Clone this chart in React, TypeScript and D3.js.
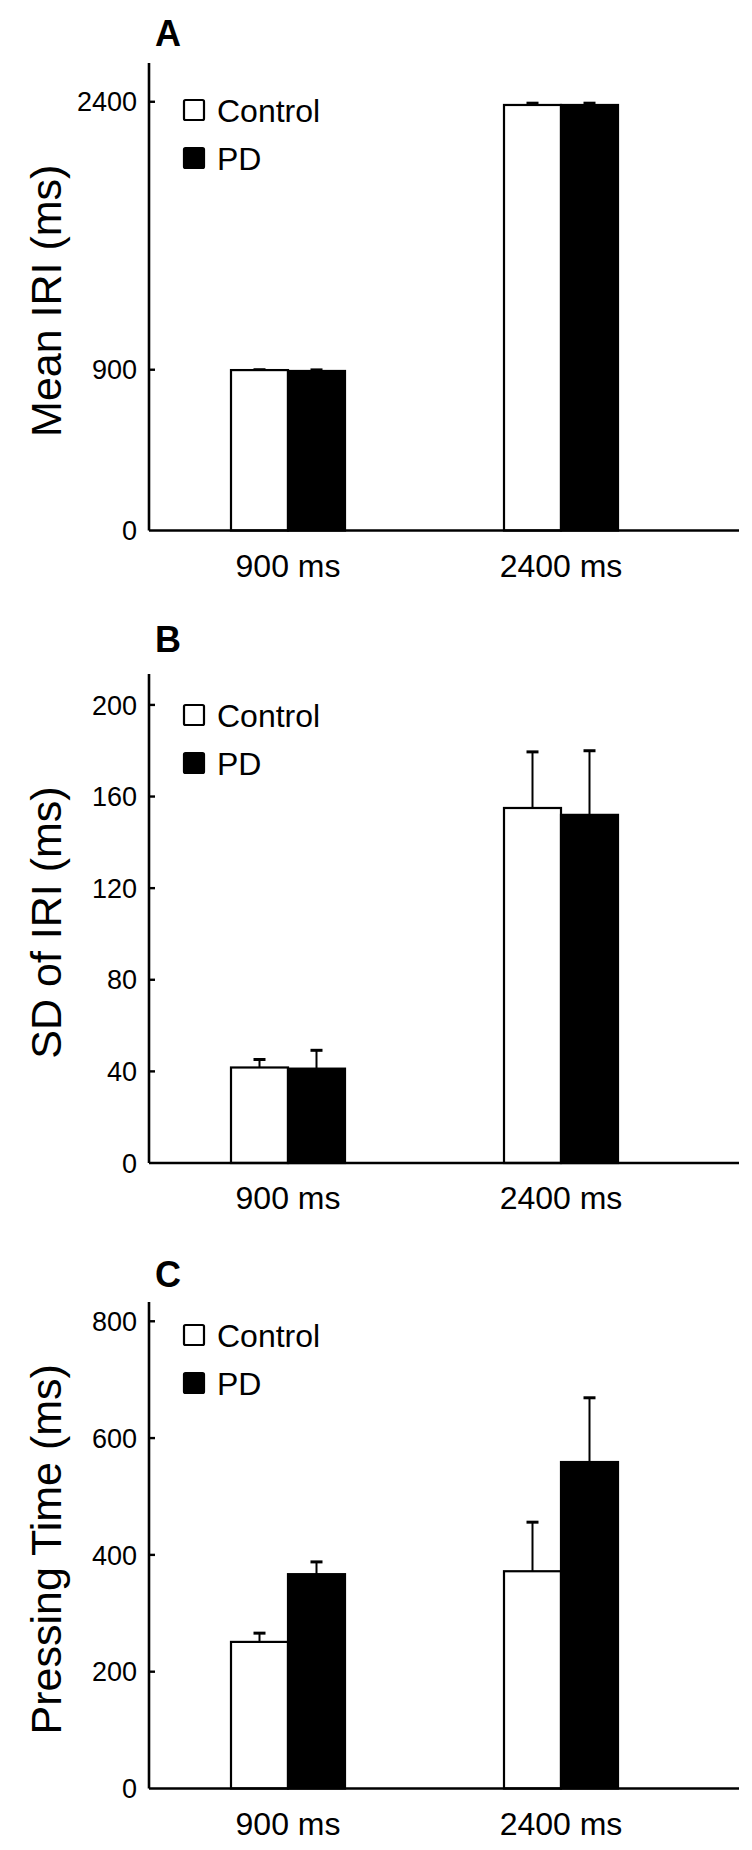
import * as d3 from "d3";

// conditions & series
const conditions = ["900 ms", "2400 ms"];
const groups = ["Control", "PD"];

// panel A: mean inter-response interval
const meanIRI = { Control: [898, 2382], PD: [893, 2382] };
const meanIRIErr = { Control: [2, 10], PD: [6, 10] };
const meanIRITicks = [0, 900, 2400];

// panel B: SD of IRI
const sdIRI = { Control: [41.7, 155], PD: [41.2, 152] };
const sdIRIErr = { Control: [3.5, 24.5], PD: [8, 28] };
const sdIRITicks = [0, 40, 80, 120, 160, 200];

// panel C: pressing time
const pressTime = { Control: [251, 372], PD: [367, 559] };
const pressTimeErr = { Control: [15, 84], PD: [21, 110] };
const pressTimeTicks = [0, 200, 400, 600, 800];

const FONT = "'Liberation Sans', Arial, Helvetica, sans-serif";

const panels = [
  { letter: "A", ylabel: "Mean IRI (ms)", values: meanIRI, errs: meanIRIErr, ticks: meanIRITicks,
    max: 2617, top: 63, bottom: 530.5, letterY: 46, legendY: 110 },
  { letter: "B", ylabel: "SD of IRI (ms)", values: sdIRI, errs: sdIRIErr, ticks: sdIRITicks,
    max: 213.5, top: 674, bottom: 1163, letterY: 652, legendY: 715 },
  { letter: "C", ylabel: "Pressing Time (ms)", values: pressTime, errs: pressTimeErr, ticks: pressTimeTicks,
    max: 833, top: 1302, bottom: 1788.5, letterY: 1287, legendY: 1335 },
];

const axisX = 149;
const axisEnd = 739;
const barW = 57;

function Panel({ p }) {
  const y = d3.scaleLinear().domain([0, p.max]).range([p.bottom, p.top]);
  const x = d3.scalePoint().domain(conditions).range([288, 561]);
  const x1 = d3.scaleBand().domain(groups).range([-barW, barW]);

  return (
    <g>
      <text x={155} y={p.letterY} fontSize={36} fontWeight="bold" fontFamily={FONT}>
        {p.letter}
      </text>

      <text
        transform={`translate(61, ${(p.top + p.bottom) / 2 + 4}) rotate(-90)`}
        textAnchor="middle"
        fontSize={43}
        fontFamily={FONT}
      >
        {p.ylabel}
      </text>

      {conditions.map((c, i) =>
        groups.map((g) => {
          const v = p.values[g][i];
          const e = p.errs[g][i];
          const bx = x(c) + x1(g);
          const cx = bx + x1.bandwidth() / 2;
          return (
            <g key={c + g}>
              <line x1={cx} x2={cx} y1={y(v)} y2={y(v + e)} stroke="#000" strokeWidth={2} />
              <line x1={cx - 6} x2={cx + 6} y1={y(v + e)} y2={y(v + e)} stroke="#000" strokeWidth={3} />
              <rect
                x={bx}
                y={y(v)}
                width={x1.bandwidth()}
                height={y(0) - y(v)}
                fill={g === "PD" ? "#000" : "#fff"}
                stroke="#000"
                strokeWidth={2.2}
              />
            </g>
          );
        })
      )}

      <line x1={axisX} x2={axisX} y1={p.top} y2={y(0)} stroke="#000" strokeWidth={2.6} />
      <line x1={axisX} x2={axisEnd} y1={y(0)} y2={y(0)} stroke="#000" strokeWidth={2.6} />

      {p.ticks.map((t) => (
        <g key={t}>
          {t > 0 && <line x1={axisX} x2={axisX + 6} y1={y(t)} y2={y(t)} stroke="#000" strokeWidth={2.4} />}
          <text
            x={axisX - 12}
            y={y(t)}
            dy="0.36em"
            textAnchor="end"
            fontSize={27}
            fontFamily={FONT}
          >
            {t}
          </text>
        </g>
      ))}

      {conditions.map((c) => (
        <text key={c} x={x(c)} y={y(0) + 46} textAnchor="middle" fontSize={32} fontFamily={FONT}>
          {c}
        </text>
      ))}

      {groups.map((g, i) => {
        const ly = p.legendY + i * 48;
        return (
          <g key={g}>
            <rect
              x={184}
              y={ly - 10}
              width={20}
              height={20}
              fill={g === "PD" ? "#000" : "#fff"}
              stroke="#000"
              strokeWidth={2.2}
              rx={1.5}
            />
            <text x={217} y={ly + 12} fontSize={32} fontFamily={FONT}>
              {g}
            </text>
          </g>
        );
      })}
    </g>
  );
}

export default function App() {
  return (
    <svg
      width={752}
      height={1850}
      viewBox="0 0 752 1850"
      style={{ position: "absolute", left: 0, top: 0, background: "#fff" }}
    >
      <rect width={752} height={1850} fill="#fff" />
      {panels.map((p) => (
        <Panel key={p.letter} p={p} />
      ))}
    </svg>
  );
}
